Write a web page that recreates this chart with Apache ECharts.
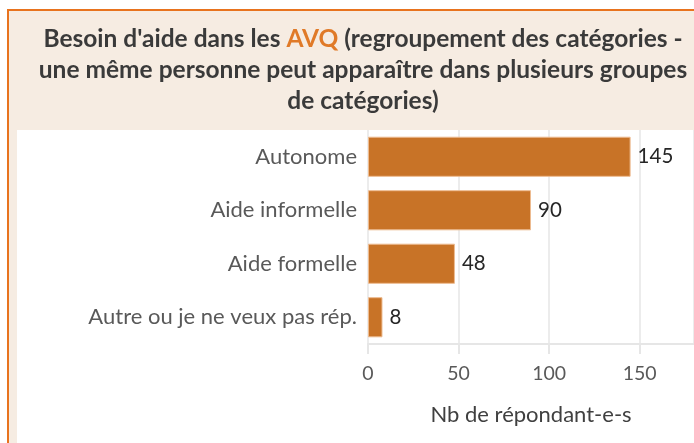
<!DOCTYPE html>
<html><head><meta charset="utf-8">
<script src="https://cdn.jsdelivr.net/npm/echarts@6/dist/echarts.min.js"></script>
<style>html,body{margin:0;padding:0;background:#fff}#c{width:694px;height:443px}</style>
</head><body><div id="c"></div>
<script>
const categories = ["Autonome", "Aide informelle", "Aide formelle", "Autre ou je ne veux pas rép."];
const values = [145, 90, 48, 8];
const xTicks = [0, 50, 100, 150];
const axisName = "Nb de répondant-e-s";
const titleLines = [
  ["Besoin d'aide dans les ", "AVQ", " (regroupement des catégories -"],
  ["une même personne peut apparaître dans plusieurs groupes"],
  ["de catégories)"]
];

const FONT = "Lato, 'Liberation Sans', sans-serif";
const titleText = titleLines.map(l => l.map((s, i) => (s === "AVQ" ? "{o|" : "{a|") + s + "}").join("")).join("\n");

const chart = echarts.init(document.getElementById('c'), null, {renderer: 'canvas'});
chart.setOption({
  animation: false,
  backgroundColor: '#ffffff',
  graphic: [
    {type: 'rect', z: -10, silent: true, shape: {x: 8, y: 10, width: 800, height: 600},
     style: {fill: '#F6ECE2', stroke: '#E8731E', lineWidth: 2}},
    {type: 'rect', z: -9, silent: true, shape: {x: 17, y: 130, width: 800, height: 400},
     style: {fill: '#ffffff'}}
  ],
  title: {
    text: titleText,
    left: 358, top: 19, textAlign: 'center',
    textStyle: {
      lineHeight: 31,
      rich: {
        a: {fontFamily: FONT, fontWeight: 'bold', fontSize: 24.5, color: '#3a3a3a', lineHeight: 31},
        o: {fontFamily: FONT, fontWeight: 'bold', fontSize: 24.5, color: '#E07A28', lineHeight: 31}
      }
    }
  },
  grid: {left: 368, right: 0, top: 130, bottom: 99, containLabel: false},
  xAxis: {
    type: 'value', min: 0, max: 180, interval: 50,
    name: axisName, nameLocation: 'middle', nameGap: 60,
    nameTextStyle: {fontFamily: FONT, fontSize: 22, color: '#404040'},
    axisLine: {show: true, lineStyle: {color: '#e6e6e6', width: 2}},
    axisTick: {show: true, length: 10, lineStyle: {color: '#e6e6e6', width: 2}},
    splitLine: {show: true, lineStyle: {color: '#ececec', width: 2}},
    axisLabel: {fontFamily: FONT, fontSize: 19.5, color: '#595959', margin: 20, showMaxLabel: false,
      formatter: v => xTicks.includes(v) ? String(v) : ''}
  },
  yAxis: {
    type: 'category', data: categories, inverse: true,
    axisLine: {show: false}, axisTick: {show: false},
    axisLabel: {fontFamily: FONT, fontSize: 22, color: '#595959', margin: 11}
  },
  series: [{
    type: 'bar', data: values, barWidth: '75%',
    itemStyle: {color: '#C87327', borderColor: '#EDBB90', borderWidth: 1},
    label: {show: true, position: 'right', distance: 7, fontFamily: FONT, fontSize: 20.5, color: '#262626'}
  }]
});
</script></body></html>
